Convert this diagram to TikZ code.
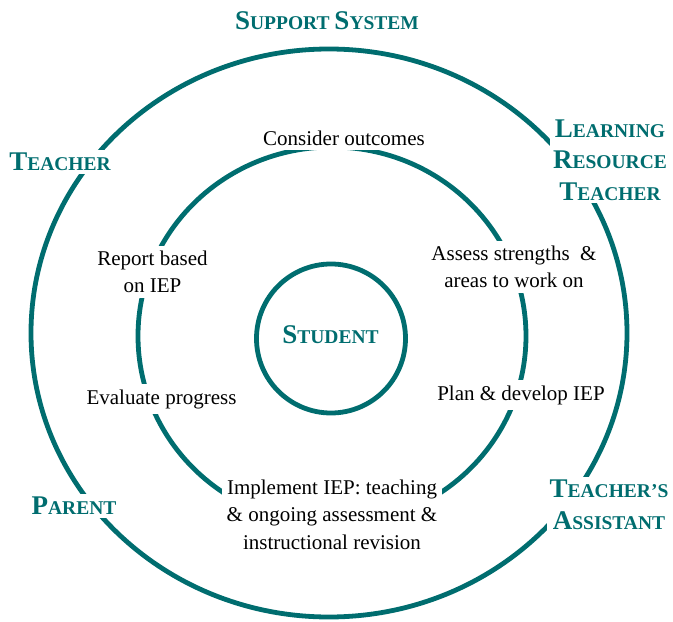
\documentclass[tikz,border=0pt]{standalone}
\usepackage{fontspec}
\setmainfont{Liberation Serif}
\usepackage{tikz}
\usepackage{xcolor}
\definecolor{IEP_Teal}{HTML}{006D6F}
% first letter large, rest as small capitals
\newcommand{\scword}[2]{{\fontsize{27}{31.5}\selectfont #1}#2}

\begin{document}
\begin{tikzpicture}[x=10pt, y=10pt,
    ring/.style={line width=4.8pt, IEP_Teal},
    rolelabel/.style={font=\fontsize{19.5}{31.5}\selectfont\bfseries, text=IEP_Teal, align=center, fill=white, inner sep=3pt},
    stagebox/.style={font=\fontsize{21}{27.5}\selectfont, align=center, fill=white, inner sep=5pt}]
    \useasboundingbox (-32.9,-28.9) rectangle (34.4,33.3);

    % Rings
    \draw[ring] (0,0) ellipse (29.8 and 28.4);
    \draw[ring] (0.3,-0.3) ellipse (19.4 and 18.9);
    \draw[ring] (0.2,-0.55) circle (7.45);

    % Centre
    \node[rolelabel, fill=none] (student) at (0.15,-0.2) {\scword{S}{TUDENT}};

    % Title
    \node[rolelabel, fill=none] (support) at (-0.2,31.2) {\scword{S}{UPPORT} \scword{S}{YSTEM}};

    % Support system roles on the outer ring
    \node[rolelabel] (teacher) at (-26.9,17.1) {\scword{T}{EACHER}};
    \node[rolelabel] (lrt) at (28.1,17.3) {\scword{L}{EARNING}\\ \scword{R}{ESOURCE}\\ \scword{T}{EACHER}};
    \node[rolelabel] (ta) at (28.0,-17.2) {\scword{T}{EACHER’S}\\ \scword{A}{SSISTANT}};
    \node[rolelabel] (parent) at (-25.5,-17.3) {\scword{P}{ARENT}};

    % IEP cycle on the inner ring
    \node[stagebox] (consider) at (1.5,19.5) {Consider outcomes};
    \node[stagebox] (assess) at (18.5,6.6) {Assess strengths~ \&\\ areas to work on};
    \node[stagebox] (plan) at (19.2,-6.2) {Plan \& develop IEP};
    \node[stagebox] (implement) at (0.3,-18.15) {Implement IEP: teaching\\ \& ongoing assessment \&\\ instructional revision};
    \node[stagebox] (evaluate) at (-16.75,-6.6) {Evaluate progress};
    \node[stagebox] (report) at (-17.65,6.1) {Report based\\ on IEP};

\end{tikzpicture}
\end{document}
